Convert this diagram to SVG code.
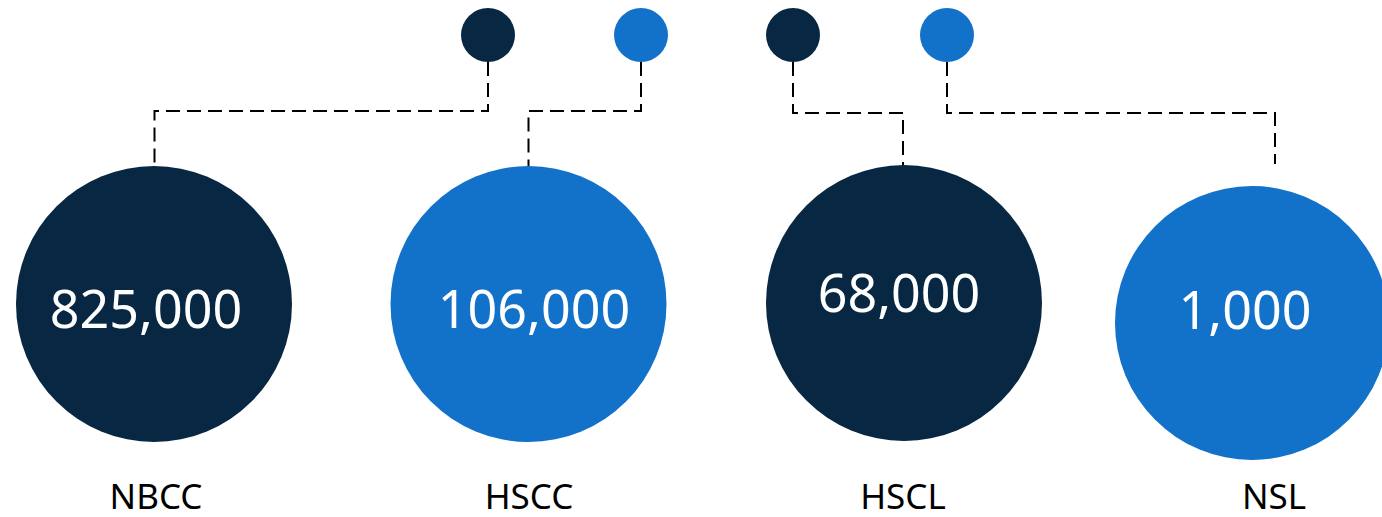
<svg xmlns="http://www.w3.org/2000/svg" width="1382" height="517" viewBox="0 0 1382 517">
<style>
.dark{fill:#072742}
.blue{fill:#1271c8}
.val{font-family:"Noto Sans","Open Sans",sans-serif;font-size:52px;fill:#ffffff;text-anchor:middle}
.lbl{font-family:"Noto Sans","Open Sans",sans-serif;font-size:35px;fill:#000000;text-anchor:middle}
.conn{fill:none;stroke:#000000;stroke-width:2;stroke-dasharray:14 7}
</style>
<rect width="1382" height="517" fill="#ffffff"/>
<g id="connectors">
<path class="conn" d="M488 62 V111 H154.5 V170"/>
<path class="conn" d="M641 62 V111 H528.5 V166"/>
<path class="conn" d="M793 62 V113 H903 V166"/>
<path class="conn" d="M947 62 V113 H1275 V164"/>
</g>
<g id="dot1"><circle class="dark" cx="488" cy="35" r="27"/></g>
<g id="dot2"><circle class="blue" cx="641" cy="35" r="27"/></g>
<g id="dot3"><circle class="dark" cx="793" cy="35" r="27"/></g>
<g id="dot4"><circle class="blue" cx="947" cy="35" r="27"/></g>
<g id="nbcc">
<circle class="dark" cx="154" cy="304" r="138"/>
<text class="val" x="146" y="328">825,000</text>
<text class="lbl" x="156" y="509">NBCC</text>
</g>
<g id="hscc">
<circle class="blue" cx="528.5" cy="304" r="138"/>
<text class="val" x="534" y="328">106,000</text>
<text class="lbl" x="529" y="509">HSCC</text>
</g>
<g id="hscl">
<circle class="dark" cx="904" cy="303" r="138"/>
<text class="val" x="899" y="312">68,000</text>
<text class="lbl" x="903" y="509">HSCL</text>
</g>
<g id="nsl">
<circle class="blue" cx="1252" cy="323" r="137"/>
<text class="val" x="1245" y="329">1,000</text>
<text class="lbl" x="1274" y="509">NSL</text>
</g>
</svg>
